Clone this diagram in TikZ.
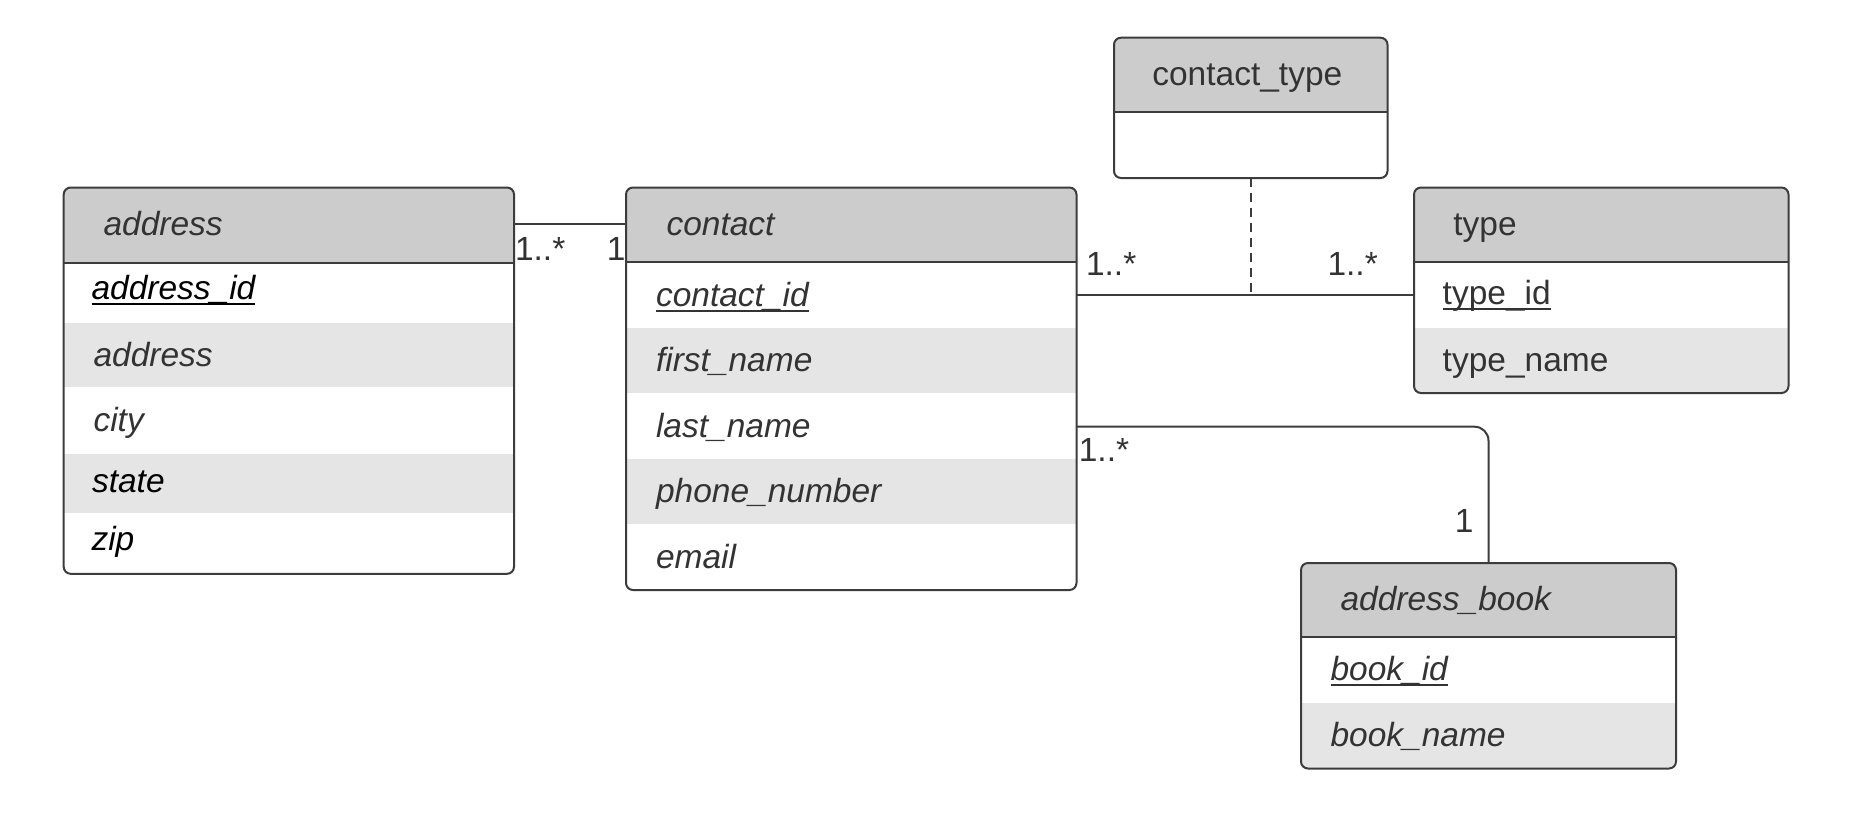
\documentclass[tikz,border=0pt]{standalone}
\usepackage{fontspec}
\setmainfont{Liberation Sans}
\definecolor{headfill}{HTML}{CCCCCC}
\definecolor{rowfill}{HTML}{E5E5E5}
\definecolor{border}{HTML}{3C3C3C}
\definecolor{textgray}{HTML}{333333}
% underline drawn just below the baseline, across descenders
\newcommand\keyline[1]{\setbox0\hbox{#1}\rlap{\rule[-5.2pt]{\wd0}{2.2pt}}\box0}
\begin{document}
\begin{tikzpicture}[x=1pt,y=-1pt,
  every node/.style={inner sep=0pt,outer sep=0pt},
  frame/.style={draw=border,line width=2pt,rounded corners=7pt,anchor=north west},
  sep/.style={draw=border,line width=2pt},
  attr/.style={anchor=base west,text=textgray,font=\fontsize{33.5}{40}\selectfont\itshape},
  attrblack/.style={attr,text=black},
  plain/.style={anchor=base west,text=textgray,font=\fontsize{33.5}{40}\selectfont},
  mult/.style={text=textgray,font=\fontsize{33.5}{40}\selectfont},
  link/.style={draw=border,line width=2pt},
]
\useasboundingbox (0,0) rectangle (1849,823);
\fill[white] (0,0) rectangle (1849,823);

% ---------- address ----------
\begin{scope}
  \clip[rounded corners=7pt] (63.7,187.5) rectangle (514,573.8);
  \fill[headfill] (63.7,187.5) rectangle (514,262.5);
  \fill[rowfill] (63.7,323.3) rectangle (514,387.3);
  \fill[rowfill] (63.7,454) rectangle (514,513.3);
\end{scope}
\draw[sep] (63.7,262.5) -- (514,262.5);
\node[frame,minimum width=450.3pt,minimum height=386.3pt] (address) at (63.7,187.5) {};
\node[attr] (address-h) at (103.5,235.5) {address};
\node[attrblack] (address-id) at (91.5,299.8) {\keyline{address\_id}};
\node[attr] (address-a) at (93.5,366.5) {address};
\node[attr] (address-c) at (93.5,431.5) {city};
\node[attrblack] (address-s) at (92,492.2) {state};
\node[attrblack] (address-z) at (91.5,550.5) {zip};

% ---------- contact ----------
\begin{scope}
  \clip[rounded corners=7pt] (626,187.5) rectangle (1076.5,590);
  \fill[headfill] (626,187.5) rectangle (1076.5,262.3);
  \fill[rowfill] (626,328) rectangle (1076.5,393.3);
  \fill[rowfill] (626,459) rectangle (1076.5,524.3);
\end{scope}
\draw[sep] (626,262.3) -- (1076.5,262.3);
\node[frame,minimum width=450.5pt,minimum height=402.5pt] (contact) at (626,187.5) {};
\node[attr] (contact-h) at (666.5,235.5) {contact};
\node[attr] (contact-id) at (656,306.5) {\keyline{contact\_id}};
\node[attr] (contact-f) at (656,371.5) {first\_name};
\node[attr] (contact-l) at (656,437.2) {last\_name};
\node[attr] (contact-p) at (656,502.5) {phone\_number};
\node[attr] (contact-e) at (656,568.2) {email};

% ---------- contact_type ----------
\begin{scope}
  \clip[rounded corners=7pt] (1114,37.7) rectangle (1387.5,178);
  \fill[headfill] (1114,37.7) rectangle (1387.5,112.3);
\end{scope}
\draw[sep] (1114,112.3) -- (1387.5,112.3);
\node[frame,minimum width=273.5pt,minimum height=140.3pt] (ctype) at (1114,37.7) {};
\node[plain,anchor=base] (ctype-h) at (1247.3,85.5) {contact\_type};

% ---------- type ----------
\begin{scope}
  \clip[rounded corners=7pt] (1414,187.5) rectangle (1788.5,393);
  \fill[headfill] (1414,187.5) rectangle (1788.5,262);
  \fill[rowfill] (1414,327.7) rectangle (1788.5,393);
\end{scope}
\draw[sep] (1414,262) -- (1788.5,262);
\node[frame,minimum width=374.5pt,minimum height=205.5pt] (type) at (1414,187.5) {};
\node[plain] (type-h) at (1453.4,235.5) {type};
\node[plain] (type-id) at (1442.7,304.8) {\keyline{type\_id}};
\node[plain] (type-n) at (1442.7,371.5) {type\_name};

% ---------- address_book ----------
\begin{scope}
  \clip[rounded corners=7pt] (1301,563) rectangle (1676,768.5);
  \fill[headfill] (1301,563) rectangle (1676,637.3);
  \fill[rowfill] (1301,702.7) rectangle (1676,768.5);
\end{scope}
\draw[sep] (1301,637.3) -- (1676,637.3);
\node[frame,minimum width=375pt,minimum height=205.5pt] (book) at (1301,563) {};
\node[attr] (book-h) at (1340.5,610.8) {address\_book};
\node[attr] (book-id) at (1330.5,680.8) {\keyline{book\_id}};
\node[attr] (book-n) at (1330.5,746.5) {book\_name};

% ---------- associations ----------
\coordinate (ac) at (0,224.3);
\coordinate (ct) at (0,295);
\coordinate (cb) at (0,426.7);
\draw[link] (address.east |- ac) -- (contact.west |- ac);
\draw[link] (contact.east |- ct) -- (type.west |- ct);
\draw[link,dash pattern=on 9pt off 6pt] (ctype.south) -- (ctype.south |- ct);
\draw[link,rounded corners=14pt] (contact.east |- cb) -- (book.north |- cb) -- (book.north);

% multiplicities
\node[mult,anchor=base west] (m1) at (515,260.5) {1..*};
\node[mult,anchor=base east] (m2) at (625.5,260.5) {1};
\node[mult,anchor=base west] (m3) at (1086,275.2) {1..*};
\node[mult,anchor=base west] (m4) at (1327.5,275.2) {1..*};
\node[mult,anchor=base west] (m5) at (1078.8,461.2) {1..*};
\node[mult,anchor=base east] (m6) at (1473.6,532.9) {1};
\end{tikzpicture}
\end{document}
